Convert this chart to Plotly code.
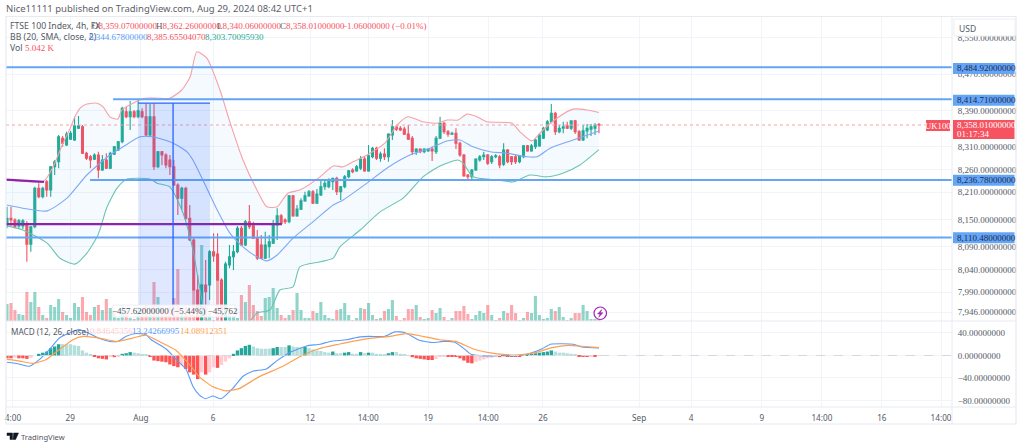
import plotly.graph_objects as go

# ---------- data ----------
opens = [8138,8153,8149,8136,8136,8140,8096,8134,8219,8200,
8233,8215,8266,8277,8329,8314,8327,8325,8351,8354,
8296,8288,8283,8292,8259,8281,8263,8294,8303,8321,
8387,8376,8387,8376,8387,8376,8336,8376,8266,8299,
8292,8281,8266,8226,8197,8219,8153,8105,7995,7929,
8006,8006,8079,8074,8017,7929,8050,8068,8079,8131,
8094,8145,8136,8109,8094,8065,8090,8098,8138,8158,
8149,8145,8202,8158,8173,8191,8202,8211,8186,8204,
8222,8222,8233,8241,8211,8222,8244,8259,8257,8263,
8283,8257,8288,8307,8285,8294,8288,8336,8354,8351,
8349,8338,8329,8299,8305,8299,8301,8305,8299,8329,
8362,8343,8338,8340,8318,8292,8248,8244,8259,8281,
8288,8292,8277,8288,8288,8272,8303,8288,8288,8277,
8288,8312,8301,8310,8312,8329,8347,8365,8384,8343,
8351,8356,8351,8367,8343,8325,8345,8349,8351,8359.07]
highs = [8178,8178,8153,8151,8151,8147,8136,8222,8230,8222,
8237,8268,8281,8336,8334,8343,8345,8376,8378,8358,
8299,8292,8296,8299,8292,8296,8299,8312,8323,8398,
8398,8411,8391,8413,8395,8406,8404,8406,8301,8301,
8296,8292,8281,8230,8222,8222,8182,8109,8028,8008,
8061,8083,8120,8120,8021,8057,8094,8094,8136,8136,
8149,8182,8145,8127,8116,8123,8116,8149,8175,8162,
8153,8204,8204,8182,8197,8211,8215,8215,8217,8237,
8237,8241,8241,8244,8224,8248,8259,8263,8270,8290,
8288,8314,8310,8310,8299,8307,8340,8369,8358,8356,
8354,8358,8334,8307,8307,8307,8307,8310,8334,8376,
8365,8347,8343,8351,8321,8294,8250,8261,8285,8292,
8299,8294,8292,8294,8292,8318,8305,8290,8292,8292,
8314,8314,8316,8327,8340,8354,8369,8404,8387,8358,
8365,8365,8367,8369,8347,8358,8360,8360,8362,8362.26]
lows = [8131,8136,8131,8131,8129,8057,8079,8131,8197,8197,
8200,8200,8248,8263,8310,8312,8325,8323,8349,8294,
8281,8263,8281,8241,8257,8261,8261,8292,8301,8318,
8373,8347,8373,8373,8373,8334,8334,8259,8263,8270,
8263,8248,8224,8160,8171,8149,8103,7995,7927,7925,
7951,7973,8057,8015,7927,7925,8043,8039,8076,8092,
8092,8129,8107,8061,8063,8063,8065,8096,8105,8140,
8140,8142,8156,8156,8171,8189,8200,8184,8184,8202,
8215,8219,8215,8204,8193,8219,8241,8252,8255,8259,
8255,8255,8285,8281,8277,8281,8277,8325,8345,8345,
8336,8325,8292,8292,8296,8296,8299,8279,8294,8327,
8338,8332,8336,8305,8288,8244,8239,8239,8257,8277,
8281,8270,8272,8285,8263,8268,8274,8270,8272,8274,
8285,8299,8299,8305,8310,8327,8345,8362,8336,8340,
8340,8349,8347,8338,8323,8323,8329,8334,8336,8340.06]
closes = [8153,8149,8134,8147,8147,8096,8134,8219,8200,8219,
8215,8266,8277,8332,8318,8338,8340,8356,8356,8296,
8285,8281,8292,8259,8281,8263,8296,8310,8321,8395,
8376,8387,8376,8389,8376,8336,8376,8266,8299,8292,
8270,8266,8226,8197,8219,8153,8105,7995,7929,8006,
7991,8079,8070,8017,7951,8052,8068,8079,8131,8094,
8145,8134,8109,8065,8065,8094,8101,8138,8158,8142,
8145,8202,8158,8173,8191,8202,8211,8186,8206,8222,
8230,8235,8241,8211,8222,8244,8257,8255,8266,8283,
8257,8290,8307,8285,8294,8288,8338,8354,8349,8347,
8338,8327,8299,8305,8299,8305,8305,8301,8329,8362,
8343,8338,8340,8318,8292,8246,8244,8259,8283,8288,
8292,8274,8288,8290,8270,8303,8277,8277,8277,8290,
8312,8301,8312,8325,8336,8351,8365,8384,8343,8351,
8354,8351,8367,8343,8325,8345,8351,8354,8358,8358.01]
volume_k = [42.5,45,27.5,17.5,15,72.5,47.5,72.5,35,15,
7.5,40,35,55,22.5,15,7.5,45,35,60,
22.5,15,35,40,27.5,55,32.5,22.5,7.5,40,
27.5,7.5,5,35,32.5,40,35,97.5,60,35,
20,35,57.5,130,22.5,35,20,77.5,77.5,190,
35,20,2.5,120,102.5,35,20,12.5,7.5,65,
47.5,90,40,25,12.5,57.5,60,82.5,32.5,15,
7.5,15,27.5,70,27.5,7.5,7.5,25,20,47.5,
15,7.5,5,27.5,30,45,15,2.5,7.5,32.5,
30,45,15,5,7.5,25,30,52.5,12.5,2.5,
7.5,30,30,40,10,5,7.5,27.5,20,32.5,
10,2.5,7.5,25,25,37.5,17.5,5,15,25,
20,40,15,2.5,7.5,25,20,40,20,2.5,
7.5,22.5,20,62.5,15,5,7.5,30,25,35,
10,2.5,7.5,20,20,40,25,5,5,5.04]
macd_hist = [-5,-5,-4,-5,-5,-6,-4,0,3,5,
7,13,16,20,20,20,20,18,17,9,
5,2,-1,-5,-6,-7,-2,-3,-2,3,
4,6,5,4,2,1,-1,-9,-10,-11,
-12,-16,-19,-21,-18,-24,-30,-34,-42,-30,
-34,-30,-21,-22,-17,-11,-5,3,9,13,
17,19,16,13,12,12,12,13,15,15,
15,18,16,15,14,15,13,11,9,8,
6,5,7,4,4,5,6,3,3,6,
4,5,5,3,2,2,4,6,6,3,
2,0,-3,-5,-6,-7,-8,-8,-6,-2,
-1,-1,-2,-2,-5,-9,-13,-14,-11,-9,
-7,-5,-4,-2,-3,-1,-1,-1,-1,-1,
0,1,2,4,5,6,7,9,7,5,
5,4,3,1,-2,-2,-2,-1,-1,-0.85]

bb_upper_i = [0,9.3,11.6,14.1,15.9,17.1,18.4,20.1,22.7,24.2,25.9,27.9,28.9,31.7,34.7,37.8,41,44,46.1,47.8,50.3,53.6,56.1,59.4,62.9,65.4,68,70.7,73.7,78.8,82.1,84.6,87.1,90.6,95.1,98.2,100.9,104.7,108.2,110.7,113.5,115.8,118.3,120.8,127.1,129.1,132.1,134.9,138.4,142.5,146,149]
bb_upper = [8237,8235,8266,8318,8351,8376,8395,8404,8406,8398,8376,8371,8391,8406,8417,8417,8417,8435,8464,8519,8505,8435,8365,8281,8215,8178,8178,8208,8215,8244,8268,8266,8277,8292,8318,8358,8376,8365,8362,8369,8369,8382,8376,8365,8362,8343,8323,8347,8373,8393,8391,8385.66]
bb_mid_i = [0,4,10.1,15.1,20.1,25.9,29.2,33.5,36.7,41.8,45.3,46.8,49.3,52.9,56.1,59.4,62.9,65.4,68,72,77,82.1,84.6,90.6,95.6,101.4,106.5,110.7,114,117.3,121.6,125.8,130.9,133.4,136.7,142.5,149]
bb_mid = [8182,8175,8169,8197,8248,8292,8310,8332,8332,8318,8299,8281,8237,8171,8120,8090,8068,8059,8072,8109,8145,8182,8193,8230,8263,8292,8307,8323,8325,8310,8299,8296,8288,8288,8307,8325,8344.68]
bb_lower_i = [0,4,10.1,13.3,17.1,20.1,22.9,25.2,27.7,30.2,36,37.8,41,44.3,46.8,48.6,50.3,53.6,57.4,60.4,62.9,66.2,68.7,72,73.7,78.8,82.1,83.8,88.9,93.9,99.7,104.7,109,113.5,114.8,117.3,123.3,127.4,131.6,135.9,139.9,144.2,149]
bb_lower = [8136,8127,8098,8065,8052,8076,8116,8178,8219,8239,8239,8230,8222,8164,8083,7995,7929,7896,7885,7918,7944,7951,7995,8002,8046,8057,8065,8090,8127,8167,8197,8244,8268,8281,8274,8244,8237,8233,8248,8244,8252,8270,8303.7]

macd_i = [0,3,5.7,8.2,10.7,13.2,15.7,18.2,20.7,23.3,25.8,27.9,30,32.5,35,36.3,40,42.6,45.1,46.8,48.5,50,51.8,53.9,56.9,59.4,61.9,65.3,67.8,71.1,75.4,78.8,81.3,85.5,88.8,91.3,95.1,97.6,100.1,103.8,107.2,109.7,112.6,114.7,116.8,120.5,124.7,128,131.3,134.7,136.8,142.6,144.7,149]
macd_line = [-12,-15,-19,-7,11,31,40,46,39,30,25,25,34,39,37,28,12,-7,-25,-55,-71,-77,-72,-77,-58,-37,-28,-24,-10,5,17,20,25,28,33,34,34,42,41,27,23,25,24,14,2,-1,0,-1,3,12,20,20,15,13.24]
signal_i = [0,3.2,6.6,9.9,13.3,16.6,19.2,23.3,27.5,31.6,35,38.3,42.6,45.9,48.4,51.7,55.1,58.4,63.4,69.2,74.3,78.5,83.5,85.5,90.9,96.3,100.5,104.7,108.8,113,117.2,121.3,124.7,128.8,133,137.2,141.3,145.5,149]
signal_line = [-7,-10,-14,-7,11,28,34,31,25,31,36,25,9,-16,-38,-55,-63,-59,-38,-20,0,12,20,23,30,34,39,34,28,25,12,5,2,1,5,14,18,16,14.09]

levels = [8484.92, 8414.71, 8236.78, 8110.48]
level_start_i = [-0.25, 26.7, 20.9, -0.25]
level_labels = ["8,484.92000000", "8,414.71000000", "8,236.78000000", "8,110.48000000"]
purple_long_i = [-0.25, 69.2]
purple_long = [8140, 8140]
purple_short_i = [-0.25, 9.3]
purple_short = [8238, 8233]
measure_i = [33, 51.1]
measure_top = 8406
measure_bottom = 7948.38
measure_mid_i = 41.8
last_price = 8358.01

price_ticks = [8550, 8470, 8390, 8310, 8260, 8210, 8150, 8090, 8040, 7990, 7946]
price_labels = ["8,550.00000000", "8,470.00000000", "8,390.00000000", "8,310.00000000", "8,260.00000000", "8,210.00000000", "8,150.00000000", "8,090.00000000", "8,040.00000000", "7,990.00000000", "7,946.00000000"]
macd_ticks = [40, 0, -40, -80]
macd_labels = ["40.00000000", "0.00000000", "\u221240.00000000", "\u221280.00000000"]
time_ticks = [1.5, 15.9, 33.7, 51.9, 76.3, 90.9, 106, 121.1, 134.9, 159.1, 172.2, 190, 205.1, 220.2, 235.1]
time_labels = ["4:00", "29", "Aug", "6", "12", "14:00", "19", "14:00", "26", "Sep", "4", "9", "14:00", "16", "14:00"]

# ---------- styling ----------
W, H = 1024, 447
FONT = "Noto Sans"
NUM = "Liberation Sans Narrow"
GREEN = "#22ab94"
RED = "#f7525f"
BLUE = "#5b9cf6"
ORANGE = "#ff9f50"
LEVEL = "#64a5f5"
GRID = "#f2f4f9"
FRAME = "#e8eaf0"
TEXT = "#555a66"
idx = list(range(len(opens)))

def px(x):
    return x / W

def py(y):
    return 1 - y / H

vol_colors = ["rgba(34,171,148,0.5)" if c >= o else "rgba(247,82,95,0.5)" for o, c in zip(opens, closes)]
hist_colors = []
for k, v in enumerate(macd_hist):
    prev = macd_hist[k - 1] if k else v
    if v >= 0:
        hist_colors.append("#26a69a" if v > prev else "#b2dfdb")
    else:
        hist_colors.append("#ffcdd2" if v > prev else "#ff5252")

fig = go.Figure()

fig.add_trace(go.Bar(x=idx, y=volume_k, marker=dict(color=vol_colors, line_width=0), width=0.78, xaxis="x", yaxis="y"))

fig.add_trace(go.Scatter(x=bb_upper_i, y=bb_upper, mode="lines", line=dict(color="#f7a0a6", width=1.1, shape="spline", smoothing=0.6), xaxis="x", yaxis="y2"))
fig.add_trace(go.Scatter(x=bb_lower_i, y=bb_lower, mode="lines", line=dict(color="#6cc3b2", width=1.1, shape="spline", smoothing=0.6), fill="tonexty", fillcolor="rgba(33,150,243,0.05)", xaxis="x", yaxis="y2"))
fig.add_trace(go.Scatter(x=bb_mid_i, y=bb_mid, mode="lines", line=dict(color="#7fa8f7", width=1.1, shape="spline", smoothing=0.6), xaxis="x", yaxis="y2"))

fig.add_trace(go.Candlestick(
    x=idx, open=opens, high=highs, low=lows, close=closes, xaxis="x", yaxis="y2", whiskerwidth=0,
    increasing=dict(line=dict(color=GREEN, width=1.1), fillcolor=GREEN),
    decreasing=dict(line=dict(color=RED, width=1.1), fillcolor=RED),
))

for lv, st in zip(levels, level_start_i):
    fig.add_trace(go.Scatter(x=[st, 237.85], y=[lv, lv], mode="lines", line=dict(color=LEVEL, width=2), xaxis="x", yaxis="y2"))
fig.add_trace(go.Scatter(x=purple_long_i, y=purple_long, mode="lines", line=dict(color="#8e24aa", width=2.2), xaxis="x", yaxis="y2"))
fig.add_trace(go.Scatter(x=purple_short_i, y=purple_short, mode="lines", line=dict(color="#8e24aa", width=2.2), xaxis="x", yaxis="y2"))
fig.add_trace(go.Scatter(x=[-0.25, 237.85], y=[last_price, last_price], mode="lines", line=dict(color="#f7a0a6", width=1, dash="dot"), xaxis="x", yaxis="y2"))
fig.add_trace(go.Scatter(x=[measure_i[0], measure_i[1], measure_i[1], measure_i[0], measure_i[0]],
                         y=[measure_top, measure_top, measure_bottom, measure_bottom, measure_top],
                         mode="lines", line=dict(width=0), fill="toself", fillcolor="rgba(41,98,255,0.15)", xaxis="x", yaxis="y2"))
fig.add_trace(go.Scatter(x=measure_i, y=[measure_top, measure_top], mode="lines", line=dict(color="#2962ff", width=1.3), xaxis="x", yaxis="y2"))
fig.add_trace(go.Scatter(x=[measure_mid_i, measure_mid_i], y=[measure_top, measure_bottom], mode="lines", line=dict(color="#2962ff", width=1.3), xaxis="x", yaxis="y2"))

fig.add_trace(go.Bar(x=idx, y=macd_hist, marker=dict(color=hist_colors, line_width=0), width=0.85, xaxis="x2", yaxis="y3"))
fig.add_trace(go.Scatter(x=macd_i, y=macd_line, mode="lines", line=dict(color=BLUE, width=1.1, shape="spline", smoothing=0.5), xaxis="x2", yaxis="y3"))
fig.add_trace(go.Scatter(x=signal_i, y=signal_line, mode="lines", line=dict(color=ORANGE, width=1.2, shape="spline", smoothing=0.5), xaxis="x2", yaxis="y3"))
fig.add_trace(go.Scatter(x=[-0.25, 237.85], y=[0, 0], mode="lines", line=dict(color="#d5d8df", width=1, dash="dash"), xaxis="x2", yaxis="y3"))

shapes = []
def rect(x0, y0, x1, y1, fill="rgba(0,0,0,0)", line=None, lw=1):
    shapes.append(dict(type="rect", xref="paper", yref="paper", x0=px(x0), x1=px(x1), y0=py(y0), y1=py(y1),
                       fillcolor=fill, line=dict(color=line or "rgba(0,0,0,0)", width=lw if line else 0), layer="above"))
def hline(x0, x1, y):
    shapes.append(dict(type="line", xref="paper", yref="paper", x0=px(x0), x1=px(x1), y0=py(y), y1=py(y), line=dict(color=FRAME, width=1), layer="above"))

rect(6, 16.5, 1016, 424, line=FRAME, lw=1.2)
hline(6, 1016, 321)
hline(6, 1016, 407)
shapes.append(dict(type="line", xref="paper", yref="paper", x0=px(952), x1=px(952), y0=py(17), y1=py(424), line=dict(color=FRAME, width=1), layer="above"))
rect(954, 19, 1015, 36, fill="#ffffff", line="#eceef3")
tag_y = [68.4, 100.2, 180.2, 237.7]
for ty in tag_y:
    rect(953, ty - 5.5, 1014.5, ty + 5.5, fill="#64a5f5")
rect(953, 120, 1014.5, 139, fill=RED)
rect(926, 120, 950, 131, fill=RED)
rect(113, 305, 235, 317, fill="rgba(255,255,255,0.85)", line="#eceef3")
shapes.append(dict(type="circle", xref="paper", yref="paper", x0=px(594), x1=px(606.5), y0=py(307), y1=py(319.5),
                   line=dict(color="#9c27b0", width=1.2), fillcolor="#ffffff", layer="above"))
def path(points, color):
    d = "M " + " L ".join(f"{px(a):.5f},{py(b):.5f}" for a, b in points) + " Z"
    shapes.append(dict(type="path", xref="paper", yref="paper", path=d, fillcolor=color, line=dict(color=color, width=0.5), layer="above"))
path([(601.8, 309.5), (597.5, 314), (600, 314), (598.7, 317.3), (603, 312.7), (600.5, 312.7)], "#9c27b0")
path([(7, 433), (12.5, 433), (12.5, 439.5), (10, 439.5), (10, 435.5), (7, 435.5)], "#131722")
path([(13.6, 433), (18.5, 433), (15.6, 439.5), (13, 439.5)], "#131722")

ann = []
def note(x, y, text, size=8.7, color=TEXT, anchor="left", family=FONT):
    x_adj = x - 3 if anchor == "left" else x
    ann.append(dict(xref="paper", yref="paper", x=px(x_adj), y=py(y), text=text, showarrow=False, xanchor=anchor, yanchor="middle",
                    align="left", font=dict(family=family, size=size, color=color)))

note(7, 9, "Nice11111 published on TradingView.com, Aug 29, 2024 08:42 UTC+1", 9.5, "#5d606b")
note(11, 26, "FTSE 100 Index, 4h, FX", 8.7)
for x0, prefix, num in [(93, "O", "8,359.07000000"), (157, "H", "8,362.26000000"), (218, "L", "8,340.06000000"), (281, "C", "8,358.01000000")]:
    note(x0, 26, f'<span style="color:{TEXT}">{prefix}</span>{num}', 9, RED, family=NUM)
note(343, 26, "\u22121.06000000 (\u22120.01%)", 9, RED, family=NUM)
note(11, 37, "BB (20, SMA, close, 2)", 8.7)
note(90, 37, "8,344.67800000", 9, BLUE, family=NUM)
note(148, 37, "8,385.65504070", 9, RED, family=NUM)
note(206, 37, "8,303.70095930", 9, GREEN, family=NUM)
note(11, 47.5, "Vol", 8.7)
note(26, 47.5, "5.042 K", 9, RED, family=NUM)
note(12, 331, "MACD (12, 26, close)", 8.2)
note(86, 331, "\u22120.84645356", 9, "#ffcdd2", family=NUM)
note(133, 331, "13.24266995", 9, BLUE, family=NUM)
note(181, 331, "14.08912351", 9, ORANGE, family=NUM)
note(960, 28, "USD", 8.5, "#555a66")
for lab, ty in zip(level_labels, tag_y):
    note(958, ty, lab, 9, "#1d2a52", family=NUM)
note(958, 124.5, "8,358.01000000", 9, "#ffffff", family=NUM)
note(958, 134, "01:17:34", 9, "#ffffff", family=NUM)
note(938, 125.5, "UK100", 8.7, "#ffffff", "center", family=NUM)
note(174, 311, "\u2212457.62000000 (\u22125.44%) \u221245,762", 9, "#50535e", "center", family=NUM)
note(22, 436.5, "TradingView", 7.6, "#50535e")

axis_font = dict(family=NUM, size=9, color=TEXT)
time_font = dict(family=FONT, size=8.2, color=TEXT)
fig.update_layout(
    width=W, height=H, autosize=False, margin=dict(l=0, r=0, t=0, b=0),
    paper_bgcolor="#ffffff", plot_bgcolor="#ffffff", showlegend=False, barmode="overlay",
    shapes=shapes, annotations=ann,
    xaxis=dict(domain=[px(6), px(952)], range=[-0.25, 237.85], anchor="y", tickvals=time_ticks, ticks="", showticklabels=False,
               showgrid=True, gridcolor=GRID, zeroline=False, rangeslider=dict(visible=False), fixedrange=True),
    yaxis=dict(domain=[py(321), py(17)], range=[0, 760], anchor="x", showticklabels=False, showgrid=False, zeroline=False, fixedrange=True),
    yaxis2=dict(domain=[py(321), py(17)], range=[7926.8, 8595.6], anchor="x", overlaying="y", side="right", tickvals=price_ticks, ticktext=price_labels,
                ticks="outside", ticklen=3, tickcolor="rgba(0,0,0,0)", tickfont=axis_font, showgrid=True, gridcolor=GRID, zeroline=False, fixedrange=True),
    xaxis2=dict(domain=[px(6), px(952)], range=[-0.25, 237.85], anchor="y3", tickvals=time_ticks, ticktext=time_labels, ticks="outside", ticklen=3,
                tickcolor="rgba(0,0,0,0)", tickfont=time_font, showgrid=True, gridcolor=GRID, zeroline=False, fixedrange=True),
    yaxis3=dict(domain=[py(407), py(321)], range=[-91.6, 61.3], anchor="x2", side="right", tickvals=macd_ticks, ticktext=macd_labels,
                ticks="outside", ticklen=3, tickcolor="rgba(0,0,0,0)", tickfont=axis_font, showgrid=True, gridcolor=GRID, zeroline=False, fixedrange=True),
)

fig.write_html("out.html", post_script="document.body.style.margin='0';", config={"displayModeBar": False})
